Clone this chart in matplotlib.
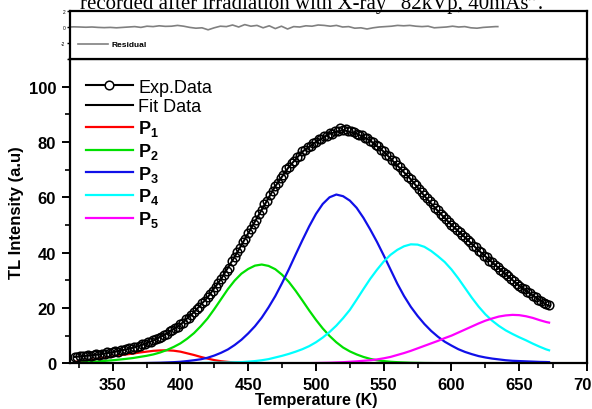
import numpy as np
import matplotlib
matplotlib.use('Agg')
import matplotlib.pyplot as plt
from matplotlib.lines import Line2D

plt.rcParams['font.family'] = ['Liberation Sans', 'DejaVu Sans']
plt.rcParams['mathtext.fontset'] = 'custom'
plt.rcParams['mathtext.rm'] = 'Liberation Sans'
plt.rcParams['mathtext.bf'] = 'Liberation Sans:bold'

title_text = 'recorded after irradiation with X-ray \u201c82kVp, 40mAs\u201d.'

# experimental TL glow curve, every 2 K from 322 K
exp_T = np.arange(322, 673, 2)
exp_I = [2.4, 2.1, 2.8, 2.5, 2.7, 3.0, 2.6, 3.1, 3.3, 3.0,
         3.5, 3.4, 3.9, 3.7, 4.1, 4.3, 4.2, 4.8, 4.7, 5.1,
         5.4, 5.3, 6.0, 5.9, 6.4, 6.9, 7.0, 7.6, 7.8, 8.3,
         8.6, 9.3, 9.5, 10.4, 10.7, 11.5, 11.9, 12.8, 13.2, 14.1,
         14.7, 15.9, 16.4, 17.6, 18.4, 19.6, 20.3, 21.8, 22.5, 23.9,
         25.0, 26.1, 27.6, 28.9, 30.4, 31.8, 33.5, 34.6, 36.9, 38.3,
         40.2, 41.6, 43.9, 45.0, 47.2, 48.6, 50.5, 51.9, 54.0, 55.3,
         57.4, 58.6, 60.8, 62.1, 64.2, 65.3, 67.0, 68.2, 70.1, 70.8,
         72.4, 73.2, 74.6, 75.1, 76.6, 77.0, 78.3, 78.5, 79.8, 80.0,
         80.9, 81.2, 82.1, 82.3, 83.2, 83.0, 84.1, 84.0, 85.0, 84.4,
         84.6, 84.0, 83.9, 83.6, 83.0, 82.6, 82.4, 81.5, 81.3, 80.4,
         80.1, 78.9, 78.5, 77.2, 76.7, 75.4, 75.0, 73.6, 73.0, 71.6,
         70.9, 69.6, 68.9, 67.4, 66.6, 65.3, 64.5, 63.1, 62.0, 60.7,
         59.8, 58.5, 57.7, 56.2, 55.3, 54.1, 53.3, 52.0, 51.2, 50.1,
         49.4, 48.2, 47.6, 46.3, 45.6, 44.4, 43.8, 42.5, 41.9, 40.7,
         40.1, 38.9, 38.3, 37.1, 36.6, 35.4, 34.9, 33.6, 33.1, 32.1,
         31.4, 30.3, 29.8, 28.6, 28.1, 27.2, 26.7, 25.6, 25.3, 24.3,
         23.9, 23.0, 22.6, 21.7, 21.3, 20.9]

fit_T = [322, 330, 340, 350, 360, 370, 380, 390, 400, 410, 420, 430, 440, 450,
         460, 470, 480, 490, 500, 510, 520, 530, 540, 550, 560, 570, 580, 590,
         600, 610, 620, 630, 640, 650, 660, 670, 672]
fit_I = [2.3, 2.7, 3.2, 4.0, 5.0, 6.3, 8.2, 10.8, 14.0, 18.5, 23.8, 30.5, 38.5, 47.0,
         55.5, 64.0, 71.0, 76.5, 80.0, 83.0, 84.3, 83.0, 80.5, 76.5, 71.5, 66.5, 60.5, 55.0,
         50.0, 45.5, 40.8, 36.5, 32.2, 28.0, 24.5, 21.2, 20.8]

# fitted glow peaks
p1_T = np.append([322], np.arange(325, 466, 5))
p1_I = [0.5, 0.65, 0.9, 1.3, 1.7, 2.1, 2.5, 2.9, 3.2, 3.5,
        3.9, 4.2, 4.5, 4.65, 4.7, 4.55, 4.2, 3.6, 3.0, 2.3,
        1.7, 1.15, 0.75, 0.5, 0.3, 0.2, 0.12, 0.07, 0.03, 0.0]

p2_T = np.append([322], np.arange(325, 601, 5))
p2_I = [0.2, 0.3, 0.4, 0.55, 0.7, 0.9, 1.1, 1.35, 1.6, 1.9,
        2.3, 2.7, 3.2, 3.9, 4.8, 5.9, 7.2, 8.9, 10.9, 13.4,
        16.2, 19.6, 23.2, 26.8, 29.9, 32.4, 34.1, 35.3, 35.7, 35.2,
        34.0, 32.0, 29.4, 26.2, 22.7, 19.1, 15.7, 12.6, 9.9, 7.6,
        5.7, 4.3, 3.2, 2.3, 1.6, 1.1, 0.8, 0.55, 0.4, 0.3,
        0.2, 0.15, 0.1, 0.08, 0.05, 0.03, 0.0]

p3_T = np.append(np.arange(370, 671, 5), [672])
p3_I = [0.05, 0.1, 0.15, 0.2, 0.3, 0.4, 0.55, 0.8, 1.1, 1.45,
        2.0, 2.8, 3.8, 5.0, 6.6, 8.5, 10.8, 13.4, 16.5, 20.2,
        24.3, 29.0, 34.0, 39.3, 44.5, 49.5, 54.0, 57.6, 60.0, 61.0,
        60.4, 58.8, 56.2, 52.6, 48.4, 43.9, 39.0, 33.9, 28.8, 24.3,
        20.4, 17.1, 14.2, 11.7, 9.6, 7.8, 6.4, 5.1, 4.1, 3.3,
        2.6, 2.1, 1.7, 1.4, 1.1, 0.9, 0.8, 0.7, 0.6, 0.5,
        0.45, 0.4]

p4_T = np.append(np.arange(415, 671, 5), [672])
p4_I = [0.1, 0.15, 0.2, 0.25, 0.3, 0.35, 0.4, 0.6, 0.8, 1.1,
        1.5, 2.1, 2.7, 3.4, 4.2, 5.1, 6.2, 7.6, 9.3, 11.3,
        13.6, 16.3, 19.3, 23.0, 26.8, 30.5, 33.8, 36.8, 39.2, 41.0,
        42.3, 43.0, 42.9, 42.1, 40.6, 38.7, 36.6, 33.9, 30.7, 27.2,
        23.7, 20.5, 17.7, 15.4, 13.5, 11.9, 10.6, 9.4, 8.3, 7.1,
        6.0, 5.0, 4.7]

p5_T = np.append(np.arange(490, 671, 5), [672])
p5_I = [0.02, 0.05, 0.1, 0.15, 0.2, 0.3, 0.4, 0.55, 0.7, 0.9,
        1.1, 1.4, 1.8, 2.3, 3.0, 3.7, 4.5, 5.4, 6.3, 7.2,
        8.1, 9.1, 10.0, 11.1, 12.2, 13.3, 14.4, 15.4, 16.2, 16.9,
        17.3, 17.5, 17.4, 17.0, 16.4, 15.6, 14.9, 14.7]

res_T = np.concatenate([[322], np.arange(325, 671, 5), [672]])
res_I = [0.0, 0.02, 0.0, -0.03, 0.0, -0.05, -0.08, -0.05, -0.1, -0.05,
         0.0, 0.05, -0.05, 0.1, 0.05, 0.15, 0.08, 0.1, 0.2, 0.1,
         -0.05, -0.15, -0.1, -0.35, -0.1, 0.1, 0.05, 0.25, 0.0, 0.3,
         0.1, 0.2, -0.1, 0.15, -0.2, 0.1, -0.25, 0.05, 0.0, 0.15,
         0.1, 0.25, 0.2, 0.1, 0.2, 0.0, 0.05, -0.15, -0.1, -0.25,
         -0.1, 0.0, 0.05, 0.1, 0.2, 0.15, 0.2, 0.1, 0.05, 0.1,
         -0.1, -0.05, 0.0, 0.1, 0.0, 0.05, -0.1, -0.15, -0.05, 0.0,
         0.05, 0.05]

peaks = [(p1_T, p1_I, '#ff0000', r'$\mathbf{P}_\mathbf{1}$'),
         (p2_T, p2_I, '#00e000', r'$\mathbf{P}_\mathbf{2}$'),
         (p3_T, p3_I, '#1010e8', r'$\mathbf{P}_\mathbf{3}$'),
         (p4_T, p4_I, '#00ffff', r'$\mathbf{P}_\mathbf{4}$'),
         (p5_T, p5_I, '#ff00ff', r'$\mathbf{P}_\mathbf{5}$')]

fig = plt.figure(figsize=(5.92, 4.10), dpi=100)
ax = fig.add_axes([0.1182, 0.1115, 0.8734, 0.7422])
axr = fig.add_axes([0.1182, 0.8537, 0.8734, 0.1170])

# main panel
for T, I, c, lab in peaks:
    ax.plot(T, I, color=c, lw=1.6)
ax.plot(fit_T, fit_I, color='black', lw=1.5)
ax.plot(exp_T, exp_I, linestyle='none', marker='o', ms=6.2, mfc='none',
        mec='black', mew=1.1)

ax.set_xlim(318.5, 700)
ax.set_ylim(0, 110)
ax.set_xticks(np.arange(350, 701, 50))
ax.set_xticks(np.arange(325, 700, 25), minor=True)
ax.set_yticks(np.arange(0, 101, 20))
ax.set_yticks(np.arange(10, 110, 20), minor=True)
ax.tick_params(which='major', direction='out', length=6, width=1.4,
               labelsize=12, pad=4)
ax.tick_params(which='minor', direction='out', length=3.5, width=1.2)
for lab in ax.get_xticklabels() + ax.get_yticklabels():
    lab.set_fontweight('bold')
for s in ax.spines.values():
    s.set_linewidth(1.6)
ax.set_xlabel('Temperature (K)', fontsize=11.5, fontweight='bold')
ax.xaxis.set_label_coords(0.476, -0.094)
ax.set_ylabel('TL Intensity (a.u)', fontsize=12, fontweight='bold', labelpad=3)

handles = [Line2D([], [], color='black', lw=1.5, marker='o', ms=6.2, mfc='white',
                  mec='black', mew=1.1),
           Line2D([], [], color='black', lw=1.5)]
labels = ['Exp.Data', 'Fit Data']
for T, I, c, lab in peaks:
    handles.append(Line2D([], [], color=c, lw=1.6))
    labels.append(lab)
leg = ax.legend(handles, labels, loc='upper left', bbox_to_anchor=(0.031, 0.935),
                frameon=False, fontsize=13, handlelength=2.6, handletextpad=0.3,
                labelspacing=0.15, borderpad=0, borderaxespad=0)

# residual panel
axr.plot(res_T, res_I, color='#808080', lw=1.2, label='Residual')
axr.set_xlim(322, 745)
axr.set_ylim(-4, 2)
axr.set_xticks([])
axr.set_yticks([-4, -2, 0, 2])
axr.set_yticklabels(['', '-2', '0', '2'])
axr.tick_params(axis='y', direction='out', length=2.5, width=1.0, labelsize=3.5, pad=1)
for s in axr.spines.values():
    s.set_linewidth(1.6)
axr.legend(loc='lower left', bbox_to_anchor=(0.015, 0.22), frameon=False,
           prop={'size': 6, 'weight': 'bold'}, handlelength=3.6, handletextpad=0.4,
           borderpad=0, borderaxespad=0)

fig.text(0.527, 0.978, title_text, ha='center', va='baseline', fontsize=15,
         family='Liberation Serif')

plt.savefig('out.png', dpi=100)
plt.close()
